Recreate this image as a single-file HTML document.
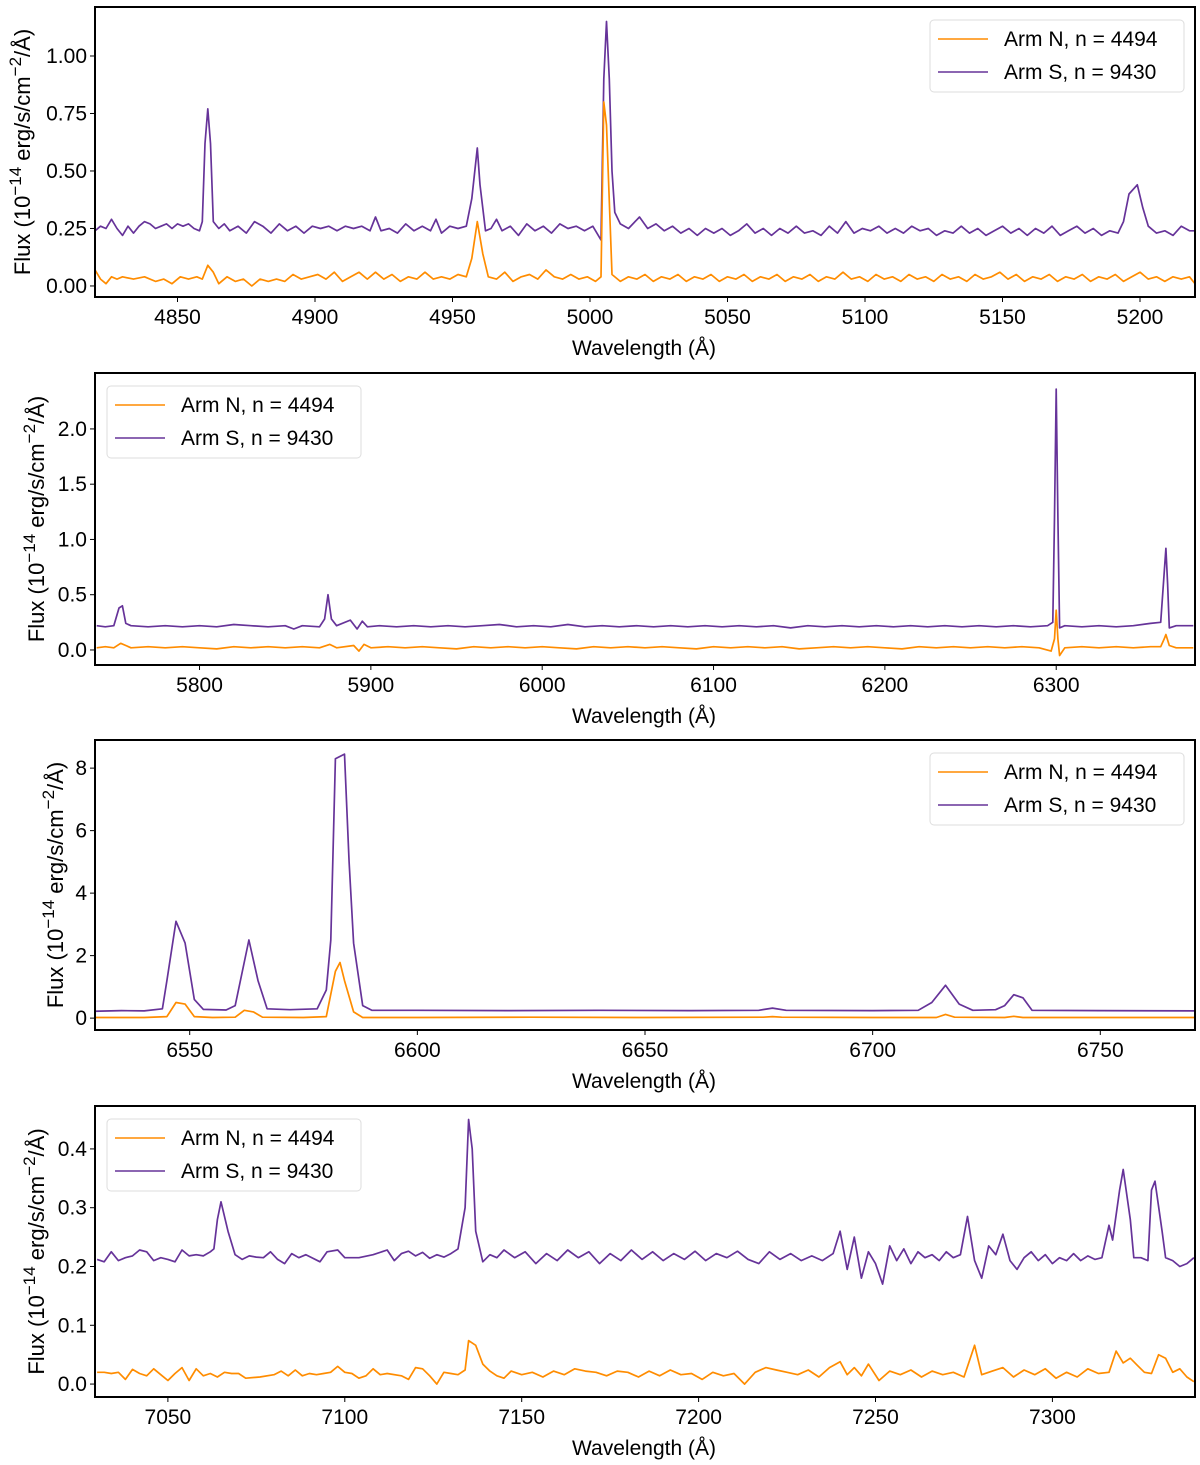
<!DOCTYPE html>
<html><head><meta charset="utf-8"><style>
html,body{margin:0;padding:0;background:#fff}
svg{display:block;font-family:"Liberation Sans",Arial,sans-serif}
</style></head><body>
<svg id="fig" width="1200" height="1465" viewBox="0 0 1200 1465"></svg>
<script>
// ---------- Data (wavelength Å, flux 1e-14 erg/s/cm2/Å) ----------
const p1N = [[4820,.07],[4822,.03],[4824,.01],[4826,.04],[4828,.03],[4830,.04],[4834,.03],[4838,.04],[4842,.02],[4845,.03],[4848,.01],[4851,.04],[4854,.03],[4857,.04],[4859,.03],[4861,.09],[4863,.06],[4865,.01],[4868,.04],[4871,.02],[4874,.03],[4877,.00],[4880,.03],[4883,.02],[4886,.03],[4889,.02],[4892,.05],[4895,.03],[4898,.04],[4901,.05],[4904,.03],[4907,.06],[4910,.02],[4913,.04],[4916,.06],[4919,.03],[4922,.06],[4925,.03],[4928,.05],[4931,.02],[4934,.04],[4937,.03],[4940,.06],[4943,.03],[4946,.04],[4949,.03],[4952,.05],[4955,.04],[4957,.12],[4959,.28],[4961,.14],[4963,.04],[4966,.03],[4969,.06],[4972,.02],[4975,.04],[4978,.05],[4981,.03],[4984,.07],[4987,.04],[4990,.03],[4993,.05],[4996,.03],[4999,.04],[5002,.02],[5004,.04],[5005,.80],[5006,.70],[5008,.05],[5011,.02],[5014,.04],[5017,.03],[5020,.05],[5023,.02],[5026,.04],[5029,.03],[5032,.05],[5035,.02],[5038,.04],[5041,.03],[5044,.05],[5047,.02],[5050,.04],[5053,.03],[5056,.05],[5059,.02],[5062,.04],[5065,.03],[5068,.05],[5071,.02],[5074,.04],[5077,.03],[5080,.05],[5083,.02],[5086,.04],[5089,.03],[5092,.06],[5095,.03],[5098,.04],[5101,.02],[5104,.05],[5107,.03],[5110,.04],[5113,.02],[5116,.05],[5119,.03],[5122,.04],[5125,.02],[5128,.05],[5131,.03],[5134,.04],[5137,.02],[5140,.05],[5143,.03],[5146,.04],[5149,.06],[5152,.03],[5155,.05],[5158,.02],[5161,.04],[5164,.03],[5167,.05],[5170,.02],[5173,.04],[5176,.03],[5179,.05],[5182,.02],[5185,.04],[5188,.03],[5191,.05],[5194,.02],[5197,.04],[5200,.06],[5203,.03],[5206,.04],[5209,.02],[5212,.04],[5215,.03],[5218,.04],[5220,.01]];
const p1S = [[4820,.24],[4822,.26],[4824,.25],[4826,.29],[4828,.25],[4830,.22],[4832,.26],[4834,.23],[4836,.26],[4838,.28],[4840,.27],[4842,.25],[4844,.26],[4846,.27],[4848,.25],[4850,.27],[4852,.26],[4854,.27],[4856,.25],[4858,.24],[4859,.28],[4860,.62],[4861,.77],[4862,.62],[4863,.28],[4865,.25],[4867,.27],[4869,.24],[4872,.26],[4875,.23],[4878,.28],[4881,.26],[4884,.23],[4887,.27],[4890,.24],[4893,.26],[4896,.23],[4899,.26],[4902,.25],[4905,.26],[4908,.24],[4911,.26],[4914,.25],[4917,.26],[4920,.24],[4922,.30],[4924,.24],[4927,.25],[4930,.23],[4933,.27],[4936,.24],[4939,.26],[4942,.24],[4944,.29],[4946,.23],[4949,.26],[4952,.25],[4955,.26],[4957,.38],[4959,.60],[4960,.44],[4962,.24],[4964,.25],[4966,.29],[4968,.24],[4971,.26],[4974,.22],[4977,.27],[4980,.24],[4983,.26],[4986,.23],[4989,.27],[4992,.25],[4995,.26],[4998,.24],[5001,.26],[5003,.22],[5004,.20],[5005,.90],[5006,1.15],[5007,.90],[5008,.50],[5009,.32],[5011,.27],[5014,.25],[5018,.30],[5021,.25],[5024,.27],[5027,.24],[5030,.26],[5033,.23],[5036,.25],[5039,.22],[5042,.25],[5045,.23],[5048,.25],[5051,.22],[5054,.24],[5057,.27],[5060,.23],[5063,.25],[5066,.22],[5069,.25],[5072,.23],[5075,.26],[5078,.23],[5081,.24],[5084,.22],[5087,.26],[5090,.23],[5093,.28],[5096,.23],[5099,.25],[5102,.24],[5105,.26],[5108,.23],[5111,.25],[5114,.23],[5117,.26],[5120,.24],[5123,.25],[5126,.22],[5129,.24],[5132,.23],[5135,.26],[5138,.23],[5141,.25],[5144,.22],[5147,.24],[5150,.26],[5153,.23],[5156,.25],[5159,.22],[5162,.25],[5165,.23],[5168,.26],[5171,.22],[5174,.24],[5177,.26],[5180,.23],[5183,.25],[5186,.22],[5189,.24],[5192,.23],[5194,.28],[5196,.40],[5199,.44],[5201,.34],[5203,.26],[5206,.23],[5209,.24],[5212,.22],[5215,.26],[5218,.24],[5220,.24]];
const p2N = [[5740,.02],[5745,.03],[5750,.02],[5754,.06],[5757,.04],[5760,.02],[5770,.03],[5780,.02],[5790,.03],[5800,.02],[5810,.01],[5820,.03],[5830,.02],[5840,.03],[5850,.02],[5860,.03],[5870,.02],[5876,.05],[5880,.02],[5890,.04],[5893,-.01],[5896,.05],[5900,.02],[5910,.03],[5920,.02],[5930,.03],[5940,.02],[5950,.01],[5960,.03],[5970,.02],[5980,.03],[5990,.02],[6000,.03],[6010,.02],[6020,.01],[6030,.03],[6040,.02],[6050,.03],[6060,.02],[6070,.03],[6080,.02],[6090,.01],[6100,.03],[6110,.02],[6120,.03],[6130,.02],[6140,.03],[6150,.01],[6160,.02],[6170,.03],[6180,.02],[6190,.03],[6200,.02],[6210,.01],[6220,.03],[6230,.02],[6240,.03],[6250,.02],[6260,.03],[6270,.02],[6280,.03],[6290,.02],[6297,-.01],[6299,.10],[6300,.36],[6301,.10],[6302,-.05],[6305,.02],[6315,.03],[6325,.02],[6335,.03],[6345,.02],[6355,.03],[6361,.03],[6363,.10],[6364,.14],[6366,.04],[6370,.02],[6380,.02]];
const p2S = [[5740,.22],[5745,.21],[5750,.22],[5753,.38],[5755,.40],[5757,.24],[5760,.22],[5770,.21],[5780,.22],[5790,.21],[5800,.22],[5810,.21],[5820,.23],[5830,.22],[5840,.21],[5850,.22],[5855,.19],[5860,.22],[5870,.21],[5873,.28],[5875,.50],[5877,.28],[5880,.22],[5888,.27],[5892,.19],[5895,.26],[5898,.21],[5905,.22],[5915,.21],[5925,.22],[5935,.21],[5945,.22],[5955,.21],[5965,.22],[5975,.23],[5985,.21],[5995,.22],[6005,.21],[6015,.23],[6025,.21],[6035,.22],[6045,.21],[6055,.22],[6065,.21],[6075,.22],[6085,.21],[6095,.22],[6105,.21],[6115,.22],[6125,.21],[6135,.22],[6145,.20],[6155,.22],[6165,.21],[6175,.22],[6185,.21],[6195,.22],[6205,.21],[6215,.22],[6225,.21],[6235,.22],[6245,.21],[6255,.22],[6265,.21],[6275,.22],[6285,.21],[6295,.22],[6298,.25],[6299,1.20],[6300,2.36],[6301,1.20],[6302,.20],[6305,.22],[6315,.21],[6325,.22],[6335,.21],[6345,.22],[6355,.24],[6361,.25],[6363,.70],[6364,.92],[6365,.60],[6366,.20],[6370,.22],[6380,.22]];
const p3N = [[6529,.02],[6540,.02],[6545,.05],[6547,.50],[6549,.45],[6551,.05],[6555,.02],[6560,.03],[6562,.25],[6564,.20],[6566,.03],[6575,.02],[6580,.05],[6582,1.50],[6583,1.78],[6584,1.20],[6586,.20],[6588,.02],[6600,.02],[6625,.03],[6650,.02],[6676,.03],[6678,.05],[6680,.03],[6700,.02],[6714,.02],[6716,.12],[6718,.03],[6729,.02],[6731,.06],[6733,.02],[6750,.02],[6771,.02]];
const p3S = [[6529,.22],[6535,.24],[6540,.23],[6544,.30],[6545,1.20],[6547,3.10],[6549,2.40],[6551,.60],[6553,.28],[6558,.26],[6560,.40],[6563,2.50],[6565,1.20],[6567,.30],[6572,.27],[6578,.30],[6580,.90],[6581,2.50],[6582,8.30],[6584,8.45],[6585,5.00],[6586,2.40],[6588,.40],[6590,.25],[6600,.25],[6620,.24],[6640,.25],[6660,.24],[6675,.25],[6678,.32],[6681,.25],[6700,.24],[6710,.25],[6713,.50],[6716,1.05],[6719,.45],[6722,.25],[6727,.27],[6729,.40],[6731,.75],[6733,.65],[6735,.25],[6750,.24],[6771,.23]];
const p4N = [[7030,.02],[7032,.02],[7034,.018],[7036,.02],[7038,.008],[7040,.025],[7042,.018],[7044,.014],[7046,.026],[7048,.016],[7050,.006],[7052,.018],[7054,.028],[7056,.006],[7058,.026],[7060,.014],[7062,.018],[7064,.012],[7066,.02],[7068,.018],[7070,.018],[7072,.01],[7076,.012],[7080,.016],[7082,.022],[7084,.014],[7086,.024],[7088,.014],[7090,.018],[7092,.016],[7094,.018],[7096,.02],[7098,.03],[7100,.02],[7102,.018],[7104,.01],[7106,.014],[7108,.026],[7110,.016],[7112,.018],[7116,.014],[7118,.008],[7120,.028],[7122,.026],[7124,.014],[7126,.0],[7128,.02],[7130,.018],[7132,.016],[7134,.024],[7135,.074],[7137,.066],[7139,.034],[7141,.022],[7143,.014],[7145,.01],[7147,.022],[7150,.016],[7153,.02],[7156,.012],[7159,.022],[7162,.016],[7165,.026],[7168,.022],[7171,.02],[7174,.014],[7177,.022],[7180,.02],[7183,.012],[7186,.022],[7189,.014],[7192,.024],[7195,.016],[7198,.018],[7201,.008],[7204,.02],[7207,.014],[7210,.018],[7213,.0],[7216,.02],[7219,.028],[7222,.024],[7225,.02],[7228,.016],[7231,.024],[7234,.012],[7237,.028],[7240,.038],[7242,.016],[7244,.028],[7246,.014],[7248,.034],[7251,.006],[7254,.022],[7257,.016],[7260,.024],[7263,.012],[7266,.022],[7269,.016],[7272,.02],[7275,.012],[7278,.066],[7280,.016],[7283,.022],[7286,.028],[7289,.012],[7292,.024],[7295,.016],[7298,.026],[7301,.01],[7304,.02],[7307,.012],[7310,.026],[7313,.018],[7316,.02],[7318,.056],[7320,.036],[7322,.044],[7324,.032],[7326,.02],[7328,.018],[7330,.05],[7332,.044],[7334,.02],[7336,.026],[7338,.012],[7340,.004]];
const p4S = [[7030,.212],[7032,.208],[7034,.225],[7036,.21],[7038,.215],[7040,.218],[7042,.228],[7044,.225],[7046,.21],[7048,.215],[7050,.212],[7052,.208],[7054,.228],[7056,.218],[7058,.22],[7060,.218],[7062,.225],[7063,.23],[7064,.28],[7065,.31],[7067,.26],[7069,.22],[7071,.212],[7073,.218],[7075,.216],[7077,.215],[7079,.225],[7081,.212],[7083,.205],[7085,.222],[7087,.215],[7089,.22],[7091,.214],[7093,.208],[7095,.225],[7098,.228],[7100,.215],[7104,.215],[7108,.22],[7112,.228],[7114,.21],[7116,.222],[7118,.226],[7120,.218],[7122,.224],[7124,.214],[7126,.22],[7128,.216],[7130,.222],[7132,.23],[7134,.30],[7135,.45],[7136,.40],[7137,.26],[7139,.208],[7141,.22],[7143,.215],[7145,.228],[7148,.215],[7151,.225],[7154,.205],[7157,.222],[7160,.21],[7163,.228],[7166,.215],[7169,.225],[7172,.205],[7175,.222],[7178,.21],[7181,.228],[7184,.212],[7187,.225],[7190,.21],[7193,.222],[7196,.212],[7199,.226],[7202,.21],[7205,.222],[7208,.215],[7211,.226],[7214,.212],[7217,.205],[7220,.225],[7223,.212],[7226,.222],[7229,.21],[7232,.218],[7235,.21],[7238,.222],[7240,.26],[7242,.195],[7244,.25],[7246,.18],[7248,.225],[7250,.205],[7252,.17],[7254,.235],[7256,.21],[7258,.23],[7260,.205],[7262,.225],[7264,.215],[7266,.22],[7268,.21],[7270,.225],[7272,.215],[7274,.22],[7276,.285],[7278,.21],[7280,.18],[7282,.235],[7284,.22],[7286,.255],[7288,.21],[7290,.195],[7292,.215],[7294,.225],[7296,.21],[7298,.22],[7300,.205],[7302,.215],[7304,.21],[7306,.222],[7308,.21],[7310,.218],[7312,.212],[7314,.215],[7316,.27],[7317,.245],[7319,.33],[7320,.365],[7322,.28],[7323,.215],[7325,.215],[7327,.21],[7328,.33],[7329,.345],[7331,.26],[7332,.215],[7334,.21],[7336,.2],[7338,.205],[7340,.215]];

const xt1=[4850,4900,4950,5000,5050,5100,5150,5200], yt1=["0.00","0.25","0.50","0.75","1.00"];
const xt2=[5800,5900,6000,6100,6200,6300], yt2=["0.0","0.5","1.0","1.5","2.0"];
const xt3=[6550,6600,6650,6700,6750], yt3=["0","2","4","6","8"];
const xt4=[7050,7100,7150,7200,7250,7300], yt4=["0.0","0.1","0.2","0.3","0.4"];

const panels=[
 {id:1,top:7,bot:297,x0:4820,x1:5220,y0:-0.048,y1:1.213,N:p1N,S:p1S,xt:xt1,yt:yt1,leg:'right',ylx:22},
 {id:2,top:373,bot:665,x0:5739,x1:6381,y0:-0.136,y1:2.506,N:p2N,S:p2S,xt:xt2,yt:yt2,leg:'left',ylx:36},
 {id:3,top:740,bot:1030,x0:6529.2,x1:6770.8,y0:-0.38,y1:8.9,N:p3N,S:p3S,xt:xt3,yt:yt3,leg:'right',ylx:55},
 {id:4,top:1106,bot:1397,x0:7029.4,x1:7340.3,y0:-0.022,y1:0.473,N:p4N,S:p4S,xt:xt4,yt:yt4,leg:'left',ylx:36}
];
const L=95,R=1195, ORANGE='#ff8c00', PURPLE='#663399';
const svg=document.getElementById('fig'), NS='http://www.w3.org/2000/svg';
function mk(tag,attrs,parent){const e=document.createElementNS(NS,tag);for(const k in attrs)e.setAttribute(k,attrs[k]);(parent||svg).appendChild(e);return e;}

panels.forEach(p=>{
  const g=mk('g',{});
  
  
  const sx=v=>L+(v-p.x0)/(p.x1-p.x0)*(R-L);
  const sy=v=>p.bot-(v-p.y0)/(p.y1-p.y0)*(p.bot-p.top);
  const clip=mk('clipPath',{id:'c'+p.id},g);
  mk('rect',{x:L,y:p.top,width:R-L,height:p.bot-p.top},clip);
  [[p.S,PURPLE,'arm-s'],[p.N,ORANGE,'arm-n']].forEach(([d,c,n])=>{
    const pl=mk('polyline',{points:d.map(q=>sx(q[0]).toFixed(1)+','+sy(q[1]).toFixed(1)).join(' '),fill:'none',stroke:c,'stroke-width':1.7,'stroke-linejoin':'round','clip-path':'url(#c'+p.id+')'},g);
    
    
  });
  p.xt.forEach(t=>{
    const x=sx(t);
    mk('line',{x1:x,x2:x,y1:p.bot,y2:p.bot+5,stroke:'#000','stroke-width':1},g);
    const tx=mk('text',{x:x,y:p.bot+27,'font-size':21,'text-anchor':'middle'},g);tx.textContent=t;
    
    
  });
  p.yt.forEach(t=>{
    const y=sy(parseFloat(t));
    mk('line',{x1:L-5,x2:L,y1:y,y2:y,stroke:'#000','stroke-width':1},g);
    const tx=mk('text',{x:L-8,y:y+7,'font-size':21,'text-anchor':'end'},g);tx.textContent=t;
    
    
  });
  mk('rect',{x:L,y:p.top,width:R-L,height:p.bot-p.top,fill:'none',stroke:'#000','stroke-width':2},g);
  const xl=mk('text',{x:644,y:p.bot+58,'font-size':21,'text-anchor':'middle'},g);
  xl.textContent='Wavelength (Å)';
  
  
  const cy=(p.top+p.bot)/2;
  const yl=mk('text',{x:0,y:0,'font-size':22,'text-anchor':'middle',transform:'translate('+(p.ylx+8)+','+cy+') rotate(-90)'},g);
  yl.innerHTML='Flux (10<tspan dy="-9" font-size="17">−14</tspan><tspan dy="9"> erg/s/cm</tspan><tspan dy="-9" font-size="17">−2</tspan><tspan dy="9">/Å)</tspan>';
  
  
  const lx=p.leg==='right'?930:107, ly=p.top+13;
  const lg=mk('g',{},g);
  
  
  mk('rect',{x:lx,y:ly,width:254,height:72,rx:4,fill:'#fff','fill-opacity':0.85,stroke:'#ddd','stroke-width':1},lg);
  [['Arm N, n = 4494',ORANGE,ly+19],['Arm S, n = 9430',PURPLE,ly+52]].forEach(([t,c,y])=>{
    mk('line',{x1:lx+8,x2:lx+58,y1:y,y2:y,stroke:c,'stroke-width':1.6},lg);
    const tx=mk('text',{x:lx+74,y:y+7,'font-size':21},lg);tx.textContent=t;
    
    
  });
});
</script>
</body></html>
